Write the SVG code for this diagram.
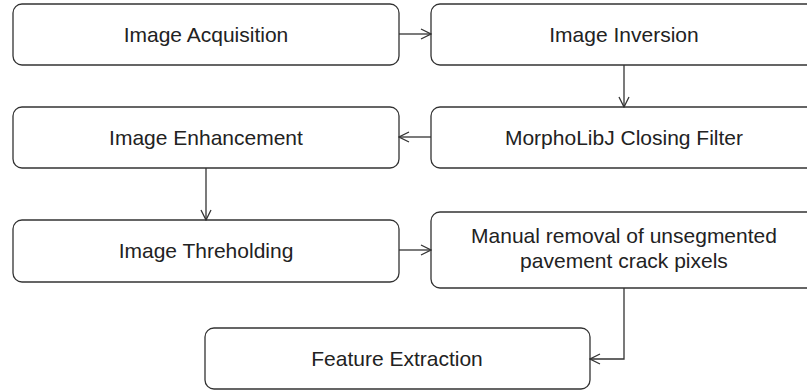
<svg xmlns="http://www.w3.org/2000/svg" width="807" height="391" viewBox="0 0 807 391">
<style>
.box{fill:#fff;stroke:#333;stroke-width:1.3}
.lbl{font-family:"Liberation Sans",Arial,sans-serif;font-size:21px;fill:#222;text-anchor:middle}
.edge{fill:none;stroke:#333;stroke-width:1.3}
</style>
<defs>
<marker id="arr" viewBox="0 0 12 12" refX="11" refY="6" markerWidth="12" markerHeight="12" markerUnits="userSpaceOnUse" orient="auto">
<path d="M1,1 L11,6 L1,11" fill="none" stroke="#333" stroke-width="1.3"/>
</marker>
</defs>
<rect width="807" height="391" fill="#fff"/>
<g id="n1"><rect class="box" x="13" y="4" width="386" height="61" rx="9"/><text class="lbl" x="206" y="42">Image Acquisition</text></g>
<g id="n2"><rect class="box" x="431" y="4" width="386" height="61" rx="9"/><text class="lbl" x="624" y="42">Image Inversion</text></g>
<g id="n3"><rect class="box" x="431" y="107" width="386" height="61" rx="9"/><text class="lbl" x="624" y="145">MorphoLibJ Closing Filter</text></g>
<g id="n4"><rect class="box" x="13" y="107" width="386" height="61" rx="9"/><text class="lbl" x="206" y="145">Image Enhancement</text></g>
<g id="n5"><rect class="box" x="13" y="220" width="386" height="62" rx="9"/><text class="lbl" x="206" y="258">Image Threholding</text></g>
<g id="n6"><rect class="box" x="431" y="212" width="386" height="76" rx="9"/><text class="lbl" x="624" y="243">Manual removal of unsegmented</text><text class="lbl" x="624" y="268">pavement crack pixels</text></g>
<g id="n7"><rect class="box" x="205" y="328" width="385" height="61" rx="9"/><text class="lbl" x="397" y="366">Feature Extraction</text></g>
<g id="edges">
<path class="edge" d="M399,34 H431" marker-end="url(#arr)"/>
<path class="edge" d="M624,65 V107" marker-end="url(#arr)"/>
<path class="edge" d="M431,137 H399" marker-end="url(#arr)"/>
<path class="edge" d="M206,168 V220" marker-end="url(#arr)"/>
<path class="edge" d="M399,250 H431" marker-end="url(#arr)"/>
<path class="edge" d="M624,288 V359 H590" marker-end="url(#arr)"/>
</g>
</svg>
